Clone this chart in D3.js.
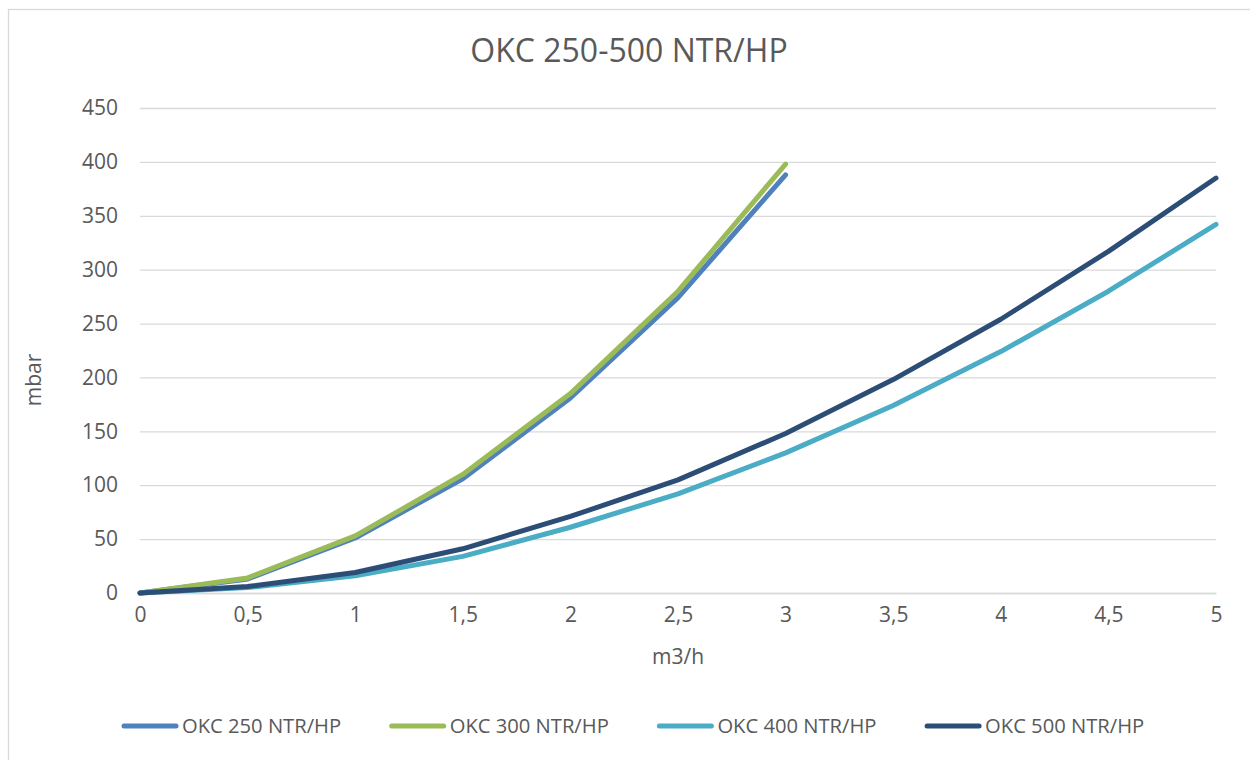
<!DOCTYPE html>
<html>
<head>
<meta charset="utf-8">
<script src="https://cdn.jsdelivr.net/npm/d3@7"></script>
<style>
  html, body { margin: 0; padding: 0; background: #fff; }
  svg { display: block; font-family: "Open Sans", sans-serif; }
</style>
</head>
<body>
<svg id="chart" width="1250" height="760"></svg>
<script>
// chart data
const flow = [0, 0.5, 1, 1.5, 2, 2.5, 3, 3.5, 4, 4.5, 5];
const okc250 = [0, 13, 51, 106, 181, 274, 388];
const okc300 = [0, 14, 53, 110, 185, 280, 398];
const okc400 = [0, 5, 16, 34, 61, 92, 130, 174, 224, 280, 342];
const okc500 = [0, 6, 19, 41, 71, 105, 148, 198, 254, 317, 385];
const seriesNames = ['OKC 250 NTR/HP', 'OKC 300 NTR/HP', 'OKC 400 NTR/HP', 'OKC 500 NTR/HP'];
const yTicks = [0, 50, 100, 150, 200, 250, 300, 350, 400, 450];

const colors = ['#4f81bd', '#9bbb59', '#4bacc6', '#2c4d75'];
const textColor = '#595959';
const gridColor = '#d9d9d9';

const svg = d3.select('#chart');

// outer frame
svg.append('rect')
    .attr('x', 8.5).attr('y', 9.5)
    .attr('width', 1270).attr('height', 780)
    .attr('fill', '#fff')
    .attr('stroke', gridColor)
    .attr('stroke-width', 1.3);

const x = d3.scaleLinear().domain([0, 5]).range([140, 1216]);
const y = d3.scaleLinear().domain([0, 450]).range([593, 108]);

// title
svg.append('text')
    .attr('x', 629).attr('y', 62)
    .attr('text-anchor', 'middle')
    .attr('font-size', 32)
    .attr('fill', textColor)
    .text('OKC 250-500 NTR/HP');

// gridlines + y labels
const yAxis = svg.append('g')
    .attr('transform', 'translate(140,0)')
    .call(d3.axisLeft(y).tickValues(yTicks).tickSize(-(1216 - 140)).tickPadding(22));
yAxis.select('.domain').remove();
yAxis.selectAll('line').attr('stroke', gridColor).attr('stroke-width', 1.3);
yAxis.selectAll('text')
    .attr('fill', textColor)
    .attr('font-size', 21)
    .attr('font-family', '"Open Sans", sans-serif');

// x axis
const xAxis = svg.append('g')
    .attr('transform', 'translate(0,593)')
    .call(d3.axisBottom(x).tickValues(flow).tickSize(0).tickPadding(14)
        .tickFormat(d => String(d).replace('.', ',')));
xAxis.select('.domain').attr('stroke', gridColor).attr('stroke-width', 1.3);
xAxis.selectAll('text')
    .attr('fill', textColor)
    .attr('font-size', 21)
    .attr('font-family', '"Open Sans", sans-serif');

// axis titles
svg.append('text')
    .attr('transform', 'translate(41,380) rotate(-90)')
    .attr('text-anchor', 'middle')
    .attr('font-size', 21)
    .attr('fill', textColor)
    .text('mbar');

svg.append('text')
    .attr('x', 678).attr('y', 664)
    .attr('text-anchor', 'middle')
    .attr('font-size', 21)
    .attr('fill', textColor)
    .text('m3/h');

// lines
const line = d3.line()
    .x((d, i) => x(flow[i]))
    .y(d => y(d));

[okc250, okc300, okc400, okc500].forEach((values, i) => {
    svg.append('path')
        .datum(values)
        .attr('d', line)
        .attr('fill', 'none')
        .attr('stroke', colors[i])
        .attr('stroke-width', 5)
        .attr('stroke-linejoin', 'round')
        .attr('stroke-linecap', 'round');
});

// legend
const legend = svg.append('g');
seriesNames.forEach((name, i) => {
    const lx = 122 + i * 267.7;
    legend.append('line')
        .attr('x1', lx + 2).attr('x2', lx + 54)
        .attr('y1', 726).attr('y2', 726)
        .attr('stroke', colors[i])
        .attr('stroke-width', 5)
        .attr('stroke-linecap', 'round');
    legend.append('text')
        .attr('x', lx + 60).attr('y', 733)
        .attr('font-size', 20.2)
        .attr('fill', textColor)
        .text(name);
});
</script>
</body>
</html>
